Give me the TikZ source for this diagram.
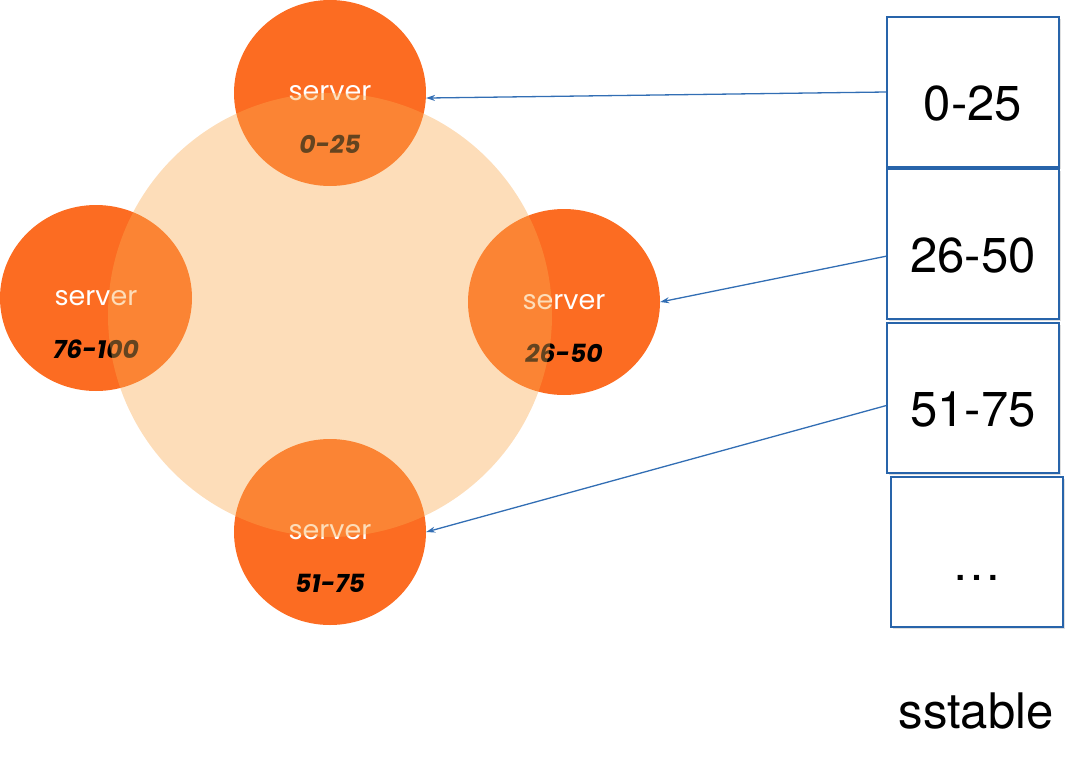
\documentclass[tikz,border=0pt]{standalone}
\usepackage{fontspec}
\setmainfont{TeX Gyre Heros}
\newfontfamily\srvfont{Poppins}
\usetikzlibrary{arrows.meta,positioning,shapes.geometric,shadows}
\definecolor{srvorange}{RGB}{252,108,34}
\definecolor{ringpeach}{RGB}{250,170,80}
\definecolor{tblblue}{RGB}{40,100,170}
\definecolor{lnkblue}{RGB}{50,110,180}

\begin{document}
\begin{tikzpicture}[x=1pt,y=-1pt,>={Stealth[length=9pt,width=6pt]},
  srv/.style={ellipse,fill=srvorange,minimum width=192pt,minimum height=186pt,inner sep=0pt},
  srvlbl/.style={font=\srvfont\fontsize{27}{30}\selectfont,text=white},
  rnglbl/.style={font=\srvfont\bfseries\itshape\fontsize{25}{28}\selectfont,text=black},
  ring/.style={circle,fill=ringpeach,fill opacity=0.4,minimum size=444pt,inner sep=0pt},
  tbl/.style={draw=tblblue,line width=2pt,fill=white,minimum width=172pt,minimum height=150pt,
              text height=56pt,text depth=0pt,inner sep=0pt,font=\fontsize{49}{52}\selectfont,
              drop shadow={shadow xshift=1.5pt,shadow yshift=-1.5pt,opacity=0.25}},
  lnk/.style={->,line width=1.3pt,lnkblue}]
\useasboundingbox (0,0) rectangle (1088,774);
% ---------------- servers on the ring
\node[srv] (s1) at (330,93) {};
\node[srv] (s2) at (564,302) {};
\node[srv] (s3) at (330,532) {};
\node[srv] (s4) at (96,298) {};
\foreach \s/\r in {s1/0-25,s2/26-50,s3/51-75,s4/76-100} {
  \node[srvlbl] at (\s.center) {server};
  \node[rnglbl] at ([yshift=-51pt]\s.center) {\r};
}
\node[ring] (ring) at (330,315) {};
% ---------------- sstable column
\node[tbl] (b1) at (973,92) {0-25};
\node[tbl] (b2) at (973,244) {26-50};
\node[tbl] (b3) at (973,398) {51-75};
\node[tbl] (b4) at (977,552) {\dots};
\node[font=\fontsize{49}{52}\selectfont] (cap) at (976,711) {sstable};
\draw[lnk] (b1.west) -- (s1.-3);
\draw[lnk] (b2.188) -- (s2.east);
\draw[lnk] (b3.185) -- (s3.east);
\end{tikzpicture}
\end{document}
